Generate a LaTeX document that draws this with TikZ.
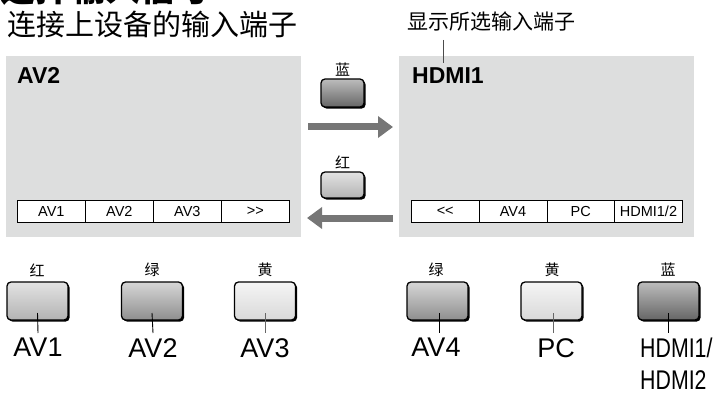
\documentclass[tikz,border=0pt]{standalone}
\usepackage{fontspec}
\setmainfont{Liberation Sans}
\newfontfamily\lat{Liberation Sans}
\newfontfamily\narrowsans{Liberation Sans}[FakeStretch=0.79]
\newfontfamily\cjk{Noto Sans CJK SC}
\usetikzlibrary{arrows.meta,shadows}
\definecolor{scr}{RGB}{221,222,222}
\definecolor{arr}{RGB}{118,118,118}
\tikzset{
  screen/.style={fill=scr,draw=none,minimum width=295pt,minimum height=181pt,anchor=north west,inner sep=0},
  cell/.style={draw=black,line width=0.7pt,fill=white,minimum width=68pt,minimum height=22pt,inner sep=0,anchor=north west,font=\lat\fontsize{14.5}{16}\selectfont},
  btn/.style={draw=black,line width=1.3pt,rounded corners=4pt,minimum width=61pt,minimum height=38pt,inner sep=0,
    drop shadow={shadow xshift=1.6pt,shadow yshift=-1.6pt,fill=black,opacity=1}},
  midbtn/.style={btn,minimum width=43pt,minimum height=27pt},
  cjklab/.style={font=\cjk\fontsize{15}{16}\selectfont,inner sep=0},
  biglab/.style={font=\fontsize{27}{32}\selectfont,inner sep=0,anchor=north},
  scrlab/.style={font=\bfseries\fontsize{23}{26}\selectfont,inner sep=0,anchor=base west},
  lead/.style={line width=0.9pt,draw=black},
  leadg/.style={line width=0.9pt,draw=black!60},
  bigarrow/.style={draw=arr,line width=7pt,-{Triangle[length=15pt,width=21pt]}},
  redbtn/.style={top color=black!11,bottom color=black!30},
  greenbtn/.style={top color=black!16,bottom color=black!44},
  yellowbtn/.style={top color=black!4,bottom color=black!15},
  bluebtn/.style={top color=black!26,bottom color=black!60},
}
\begin{document}
\begin{tikzpicture}[x=1pt,y=-1pt]
\useasboundingbox (0,0) rectangle (726,393);
\clip (0,0) rectangle (726,393);
% headings
\node[inner sep=0,anchor=base west,font=\cjk\bfseries\fontsize{35}{38}\selectfont] (h0) at (0,2) {选择输入信号};
\node[inner sep=0,anchor=base west,font=\cjk\fontsize{29}{32}\selectfont] (h1) at (7,36) {连接上设备的输入端子};
\node[inner sep=0,anchor=base west,font=\cjk\fontsize{21}{24}\selectfont] (call) at (407,30) {显示所选输入端子};
% screens
\node[screen] (s1) at (6,56) {};
\node[screen] (s2) at (399,56) {};
\node[scrlab] (t1) at (17,84) {AV2};
\node[scrlab] (t2) at (412,84) {HDMI1};
\coordinate (ct) at (443,40);
\coordinate (cb) at (443,63);
\draw[line width=0.9pt,draw=black!70] (ct) -- (cb);
% bars
\node[cell] (a1) at (17,200) {AV1};
\node[cell] (a2) at (85,200) {AV2};
\node[cell] (a3) at (153,200) {AV3};
\node[cell] (a4) at (221,200) {>>};
\node[cell,minimum width=67.75pt] (r1) at (411,200) {<<};
\node[cell,minimum width=67.75pt] (r2) at (478.75,200) {AV4};
\node[cell,minimum width=67.75pt] (r3) at (546.5,200) {PC};
\node[cell,minimum width=67.75pt] (r4) at (614.25,200) {HDMI1/2};
% middle buttons and arrows
\node[cjklab] (mb) at (342.5,70) {蓝};
\node[midbtn,bluebtn,minimum height=28pt] (m1) at (342.5,93) {};
\node[cjklab] (mr) at (342.5,162) {红};
\node[midbtn,redbtn,minimum height=26pt] (m2) at (342.5,185) {};
\coordinate (ar1) at (308,127);
\coordinate (ar2) at (393,127);
\coordinate (al1) at (393,218);
\coordinate (al2) at (307,218);
\draw[bigarrow] (ar1) -- (ar2);
\draw[bigarrow] (al1) -- (al2);
% bottom buttons
\node[cjklab] (k1) at (37,270) {红};
\node[cjklab] (k2) at (152,270) {绿};
\node[cjklab] (k3) at (265,270) {黄};
\node[cjklab] (k4) at (436,270) {绿};
\node[cjklab] (k5) at (552,270) {黄};
\node[cjklab] (k6) at (668,270) {蓝};
\node[btn,redbtn] (b1) at (37.5,301) {};
\node[btn,greenbtn] (b2) at (152,301) {};
\node[btn,yellowbtn] (b3) at (265,301) {};
\node[btn,greenbtn] (b4) at (437.5,301) {};
\node[btn,yellowbtn] (b5) at (551.5,301) {};
\node[btn,bluebtn] (b6) at (668.5,301) {};
\node[biglab] (l1) at (38,338) {AV1};
\node[biglab] (l2) at (153,338) {AV2};
\node[biglab] (l3) at (265,338) {AV3};
\node[biglab] (l4) at (436,338) {AV4};
\node[biglab] (l5) at (556,338) {PC};
\node[biglab,anchor=north west,align=left,font=\narrowsans\fontsize{27}{32}\selectfont] (l6) at (640,338) {HDMI1/\\HDMI2};
\draw[lead] ([yshift=-12pt]b1.center) -- ([yshift=5pt]l1.north);
\draw[lead] ([yshift=-12pt]b2.center) -- ([yshift=5pt]l2.north);
\draw[leadg] ([yshift=-12pt]b3.center) -- ([yshift=5pt]l3.north);
\draw[lead] ([yshift=-12pt,xshift=1.5pt]b4.center) -- ([yshift=5pt,xshift=3pt]l4.north);
\draw[leadg] ([yshift=-12pt,xshift=1.5pt]b5.center) -- ([yshift=5pt,xshift=-3pt]l5.north);
\draw[lead] ([yshift=-12pt]b6.center) -- ([yshift=5pt]b6.center |- l6.north);
\end{tikzpicture}
\end{document}
